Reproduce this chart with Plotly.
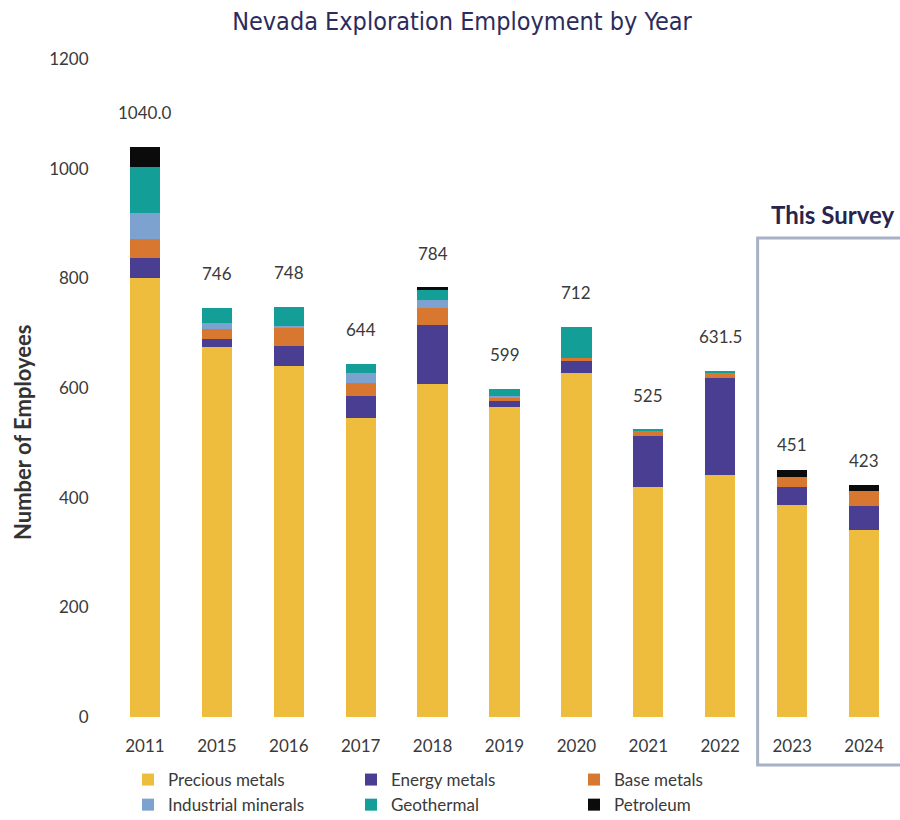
import plotly.graph_objects as go

# Survey years and employment by commodity group (people)
years = ["2011", "2015", "2016", "2017", "2018", "2019", "2020", "2021", "2022", "2023", "2024"]
precious_metals = [801, 674, 640, 546, 608, 566, 627, 420, 442, 387, 341]
energy_metals = [36, 16, 36, 40, 106, 11, 22, 93, 175.5, 33, 44]
base_metals = [35, 18, 33, 24, 31, 6, 6, 9, 9, 18, 27]
industrial_minerals = [47, 11, 4, 18, 16, 3, 0, 0, 0, 0, 0]
geothermal = [84, 27, 35, 16, 18, 13, 57, 3, 5, 0, 0]
petroleum = [37, 0, 0, 0, 5, 0, 0, 0, 0, 13, 11]
total_labels = ["1040.0", "746", "748", "644", "784", "599", "712", "525", "631.5", "451", "423"]
survey_years = ["2023", "2024"]

series = [
    ("Precious metals", precious_metals, "#EFBD3E"),
    ("Energy metals", energy_metals, "#4A3E92"),
    ("Base metals", base_metals, "#D8772F"),
    ("Industrial minerals", industrial_minerals, "#7DA2CF"),
    ("Geothermal", geothermal, "#139E98"),
    ("Petroleum", petroleum, "#0B0B0B"),
]

BODY_FONT = "Lato, 'Open Sans', sans-serif"
TEXT_GREY = "#3a3a3a"

# plot-area geometry in pixels
PLOT_L, PLOT_T, PLOT_B = 109, 59, 717
PLOT_W, PLOT_H = 900 - PLOT_L, PLOT_B - PLOT_T


def px_x(px):
    return (px - PLOT_L) / PLOT_W


def px_y(py):
    return (PLOT_B - py) / PLOT_H


fig = go.Figure()
for name, values, color in series:
    fig.add_trace(go.Bar(
        x=years, y=values, name=name,
        marker=dict(color=color, line=dict(width=0)),
        hoverinfo="skip",
    ))

# Total labels above each stacked column (category index used as x)
totals = [sum(s[1][i] for s in series) for i in range(len(years))]
for i, (yr, tot, lbl) in enumerate(zip(years, totals, total_labels)):
    fig.add_annotation(
        x=i, y=tot, text=lbl, showarrow=False,
        xref="x", yref="y", yanchor="middle",
        yshift=25 if yr in survey_years else 34,
        font=dict(family=BODY_FONT, size=17, color=TEXT_GREY),
    )

# Frame around the current survey years
fig.add_shape(
    type="rect", xref="x", yref="paper",
    x0=8.52, x1=11.5, y0=px_y(765), y1=px_y(238),
    line=dict(color="#A8B2C6", width=3), fillcolor="rgba(0,0,0,0)",
    layer="above",
)
fig.add_annotation(
    text="<b>This Survey</b>", xref="paper", yref="paper",
    x=px_x(769), y=px_y(215),
    xanchor="left", yanchor="middle", showarrow=False,
    font=dict(family=BODY_FONT, size=24, color="#27254F"),
)

# Y-axis title
fig.add_annotation(
    text="<b>Number of Employees</b>", xref="paper", yref="paper",
    x=px_x(22), y=px_y(432), textangle=-90,
    xanchor="center", yanchor="middle", showarrow=False,
    font=dict(family=BODY_FONT, size=22, color="#333333"),
)

fig.update_layout(
    width=900, height=820,
    margin=dict(l=PLOT_L, r=0, t=PLOT_T, b=820 - PLOT_B, autoexpand=False),
    barmode="stack", bargap=0.58,
    plot_bgcolor="white", paper_bgcolor="white",
    title=dict(
        text="Nevada Exploration Employment by Year",
        x=462 / 900, xanchor="center", y=1 - 21 / 820, yanchor="middle",
        font=dict(family="'DejaVu Sans Condensed', 'Liberation Sans Narrow', sans-serif",
                  size=25, color="#2D2B5C"),
    ),
    legend=dict(
        orientation="h", x=px_x(128), xanchor="left",
        y=px_y(762), yanchor="top",
        entrywidth=178, entrywidthmode="pixels",
        bgcolor="rgba(0,0,0,0)",
        font=dict(family=BODY_FONT, size=17, color=TEXT_GREY),
        traceorder="normal", itemclick=False,
    ),
    font=dict(family=BODY_FONT, color=TEXT_GREY),
)

fig.update_xaxes(
    type="category", showgrid=False, showline=False, zeroline=False,
    ticks="outside", ticklen=14, tickcolor="rgba(0,0,0,0)",
    tickfont=dict(family=BODY_FONT, size=17, color=TEXT_GREY),
    range=[-0.5, 10.5],
)
fig.update_yaxes(
    range=[0, 1200], dtick=200, showgrid=False, showline=False, zeroline=False,
    ticks="outside", ticklen=16, tickcolor="rgba(0,0,0,0)",
    tickfont=dict(family=BODY_FONT, size=17, color=TEXT_GREY),
)

fig.write_html("out.html")
